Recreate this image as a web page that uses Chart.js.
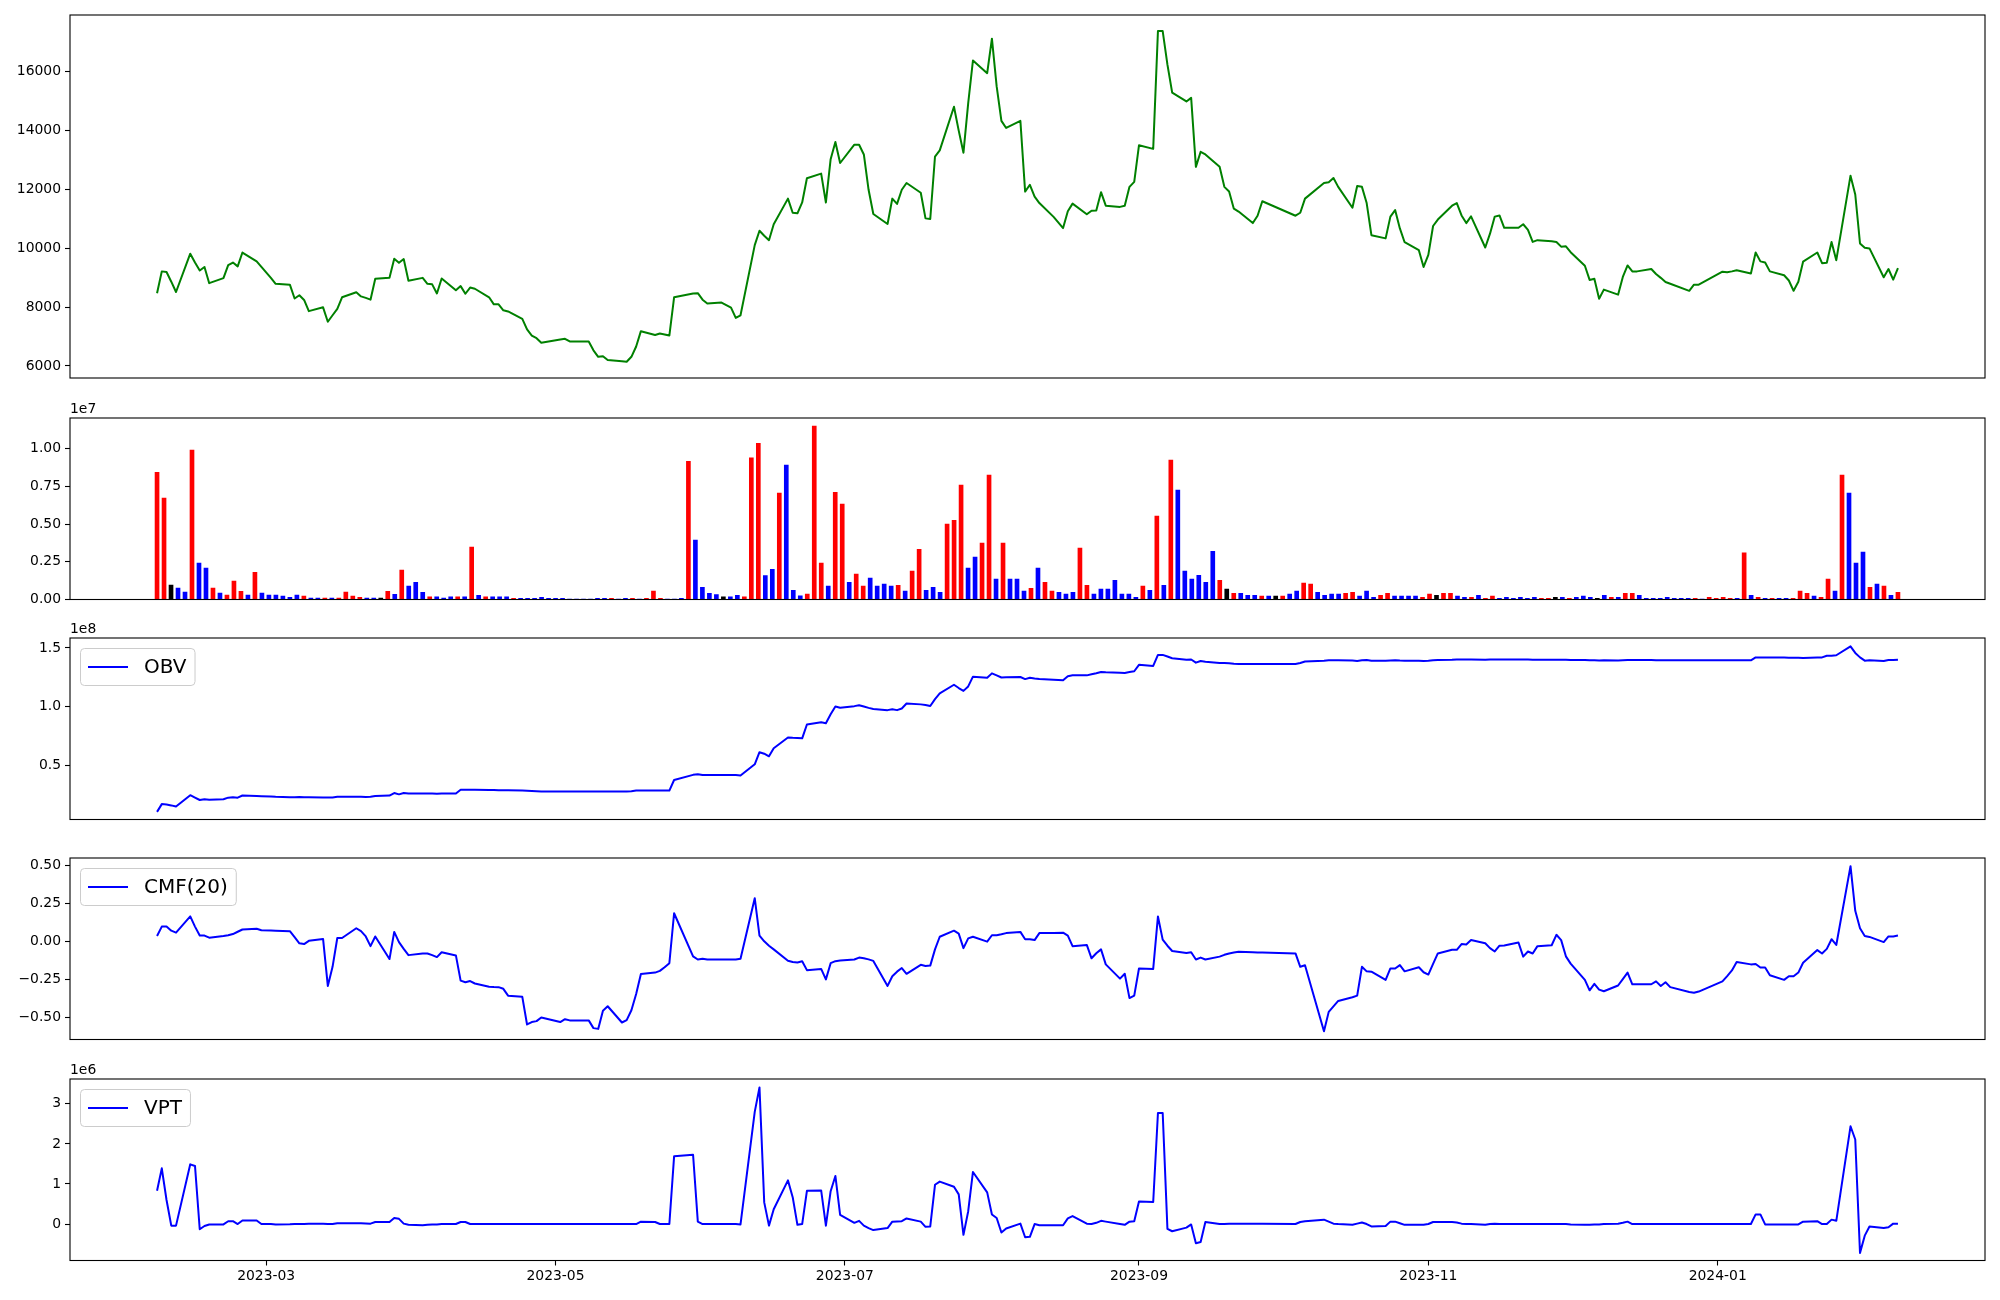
<!DOCTYPE html>
<html>
<head>
<meta charset="utf-8">
<script src="https://cdn.jsdelivr.net/npm/chart.js@4.4.1/dist/chart.umd.min.js"></script>
<style>
  body { margin: 0; background: #fff; }
  #wrap { position: relative; width: 2000px; height: 1300px; }
  #wrap canvas { position: absolute; left: 0; }
</style>
</head>
<body>
<div id="wrap">
  <canvas id="c-price"></canvas>
  <canvas id="c-vol"></canvas>
  <canvas id="c-obv"></canvas>
  <canvas id="c-cmf"></canvas>
  <canvas id="c-vpt"></canvas>
</div>
<script>
// trading calendar (KRX): weekdays between these dates, minus holidays
const startDate = '2023-02-06';
const endDate = '2024-02-08';
const holidays = ['2023-03-01', '2023-05-01', '2023-05-05', '2023-05-29', '2023-06-06',
  '2023-08-15', '2023-09-28', '2023-09-29', '2023-10-02', '2023-10-03', '2023-10-09',
  '2023-12-25', '2023-12-29', '2024-01-01'];
const monthTicks = ['2023-03-01', '2023-05-01', '2023-07-01', '2023-09-01', '2023-11-01', '2024-01-01'];

const closePrice = [
  8470, 9210, 9190, 8860, 8510, 9810, 9510, 9240, 9360, 8810,
  8980, 9420, 9510, 9380, 9850, 9550, 9360, 8990, 8790, 8760,
  8290, 8400, 8240, 7860, 7990, 7500, 7720, 7940, 8330, 8500,
  8360, 8310, 8250, 8960, 8990, 9640, 9500, 9630, 8890, 8990,
  8790, 8770, 8460, 8970, 8570, 8710, 8450, 8660, 8620, 8330,
  8090, 8090, 7890, 7850, 7600, 7240, 7030, 6940, 6790, 6900,
  6920, 6830, 6830, 6530, 6310, 6330, 6200, 6160, 6140, 6310,
  6660, 7180, 7050, 7100, 7070, 7030, 8330, 8460, 8470, 8250,
  8120, 8150, 7980, 7630, 7720, 10100, 10590, 10420, 10270, 10810,
  11680, 11200, 11180, 11550, 12370, 12530, 11550, 13020, 13600, 12890,
  13510, 13510, 13180, 11980, 11160, 10820, 11680, 11500, 11980, 12210,
  11880, 11010, 10990, 13110, 13320, 14800, 13990, 13240, 14920, 16370,
  15940, 17110, 15490, 14320, 14080, 14320, 11920, 12150, 11750, 11530,
  11060, 10680, 11250, 11510, 11150, 11270, 11280, 11900, 11440, 11400,
  11440, 12080, 12250, 13490, 13370, 17370, 17370, 16230, 15280, 14980,
  15100, 12760, 13270, 13180, 12760, 12080, 11920, 11340, 11240, 10850,
  11100, 11590, 11100, 11200, 11680, 12210, 12240, 12380, 12080, 11370,
  12110, 12080, 11530, 10440, 10330, 11070, 11290, 10670, 10200, 9930,
  9360, 9770, 10750, 10970, 11440, 11530, 11110, 10850, 11080, 10020,
  10490, 11070, 11110, 10690, 10690, 10810, 10620, 10210, 10270, 10230,
  10210, 10050, 10060, 9860, 9400, 8920, 8960, 8280, 8590, 8420,
  9020, 9410, 9210, 9210, 9290, 9120, 8990, 8850, 8790, 8550,
  8760, 8760, 9200, 9180, 9210, 9250, 9140, 9850, 9550, 9510,
  9210, 9080, 8900, 8550, 8860, 9540, 9850, 9490, 9500, 10210,
  9590, 12460, 11820, 10160, 10010, 9990, 9010, 9290, 8930, 9320
];

// volume in units of 1e7
const volume = [
  .845, .673, .095, .075, .049, .992, .241, .208, .075, .042,
  .029, .122, .055, .029, .181, .042, .029, .029, .022, .015,
  .029, .022, .009, .009, .009, .009, .009, .049, .022, .015,
  .009, .009, .009, .055, .035, .195, .089, .114, .048, .018,
  .018, .010, .018, .018, .018, .348, .028, .018, .018, .018,
  .018, .008, .008, .008, .008, .015, .008, .008, .008, .003,
  .003, .003, .003, .008, .008, .008, .003, .008, .008, .003,
  .008, .056, .008, .003, .003, .008, .917, .394, .081, .041,
  .033, .018, .018, .028, .018, .940, 1.037, .158, .201, .706,
  .892, .061, .025, .036, 1.151, .241, .089, .712, .633, .114,
  .168, .089, .142, .089, .102, .089, .094, .056, .188, .333,
  .061, .081, .048, .501, .526, .760, .208, .282, .374, .826,
  .135, .374, .135, .135, .056, .074, .208, .114, .056, .048,
  .036, .048, .341, .094, .036, .069, .069, .127, .036, .036,
  .015, .089, .061, .554, .094, .925, .727, .188, .135, .160,
  .114, .320, .127, .069, .041, .041, .028, .028, .023, .023,
  .023, .023, .036, .056, .109, .102, .048, .028, .036, .036,
  .041, .048, .023, .056, .015, .028, .041, .023, .023, .023,
  .023, .015, .036, .028, .041, .041, .023, .015, .015, .028,
  .008, .023, .008, .015, .008, .015, .008, .015, .008, .008,
  .015, .015, .008, .015, .023, .015, .008, .028, .015, .015,
  .041, .041, .028, .008, .008, .008, .015, .008, .008, .008,
  .008, .003, .015, .008, .015, .008, .008, .310, .028, .015,
  .008, .008, .008, .008, .008, .056, .041, .023, .015, .135,
  .056, .826, .706, .241, .315, .081, .102, .089, .028, .048
];

// bar direction: 1 up, -1 down, 0 unchanged
const volDir = [
  1, 1, 0, -1, -1, 1, -1, -1, 1, -1,
  1, 1, 1, -1, 1, -1, -1, -1, -1, -1,
  -1, 1, -1, -1, 1, -1, 1, 1, 1, 1,
  -1, -1, 0, 1, -1, 1, -1, -1, -1, 1,
  -1, -1, -1, 1, -1, 1, -1, 1, -1, -1,
  -1, 1, -1, -1, -1, -1, -1, -1, -1, -1,
  -1, -1, -1, -1, -1, 1, -1, -1, 1, -1,
  1, 1, 1, -1, -1, -1, 1, -1, -1, -1,
  -1, 0, -1, -1, 1, 1, 1, -1, -1, 1,
  -1, -1, -1, 1, 1, 1, -1, 1, 1, -1,
  1, 1, -1, -1, -1, -1, 1, -1, 1, 1,
  -1, -1, -1, 1, 1, 1, -1, -1, 1, 1,
  -1, 1, -1, -1, -1, 1, -1, 1, 1, -1,
  -1, -1, 1, 1, -1, -1, -1, -1, -1, -1,
  -1, 1, -1, 1, -1, 1, -1, -1, -1, -1,
  -1, -1, 1, 0, 1, -1, -1, -1, 1, -1,
  0, 1, -1, -1, 1, 1, -1, -1, -1, -1,
  1, 1, -1, -1, -1, 1, 1, -1, -1, -1,
  -1, 1, 1, 0, 1, 1, -1, -1, 1, -1,
  1, 1, -1, -1, -1, -1, -1, -1, 1, 1,
  0, -1, 1, -1, -1, -1, 0, -1, 1, -1,
  1, 1, -1, -1, -1, -1, -1, -1, -1, -1,
  1, -1, 1, 1, 1, 1, -1, 1, -1, 1,
  -1, 1, -1, -1, 1, 1, 1, -1, 1, 1,
  -1, 1, -1, -1, -1, 1, -1, 1, -1, 1
];

// OBV in units of 1e8
const obv = [
  .105, .171, .168, .160, .150, .247, .226, .206, .212, .209,
  .212, .226, .229, .226, .244, .240, .238, .235, .233, .230,
  .230, .231, .230, .230, .228, .228, .228, .233, .233, .233,
  .233, .232, .233, .240, .244, .265, .254, .265, .261, .261,
  .261, .261, .259, .261, .261, .293, .293, .293, .293, .292,
  .291, .290, .289, .288, .286, .285, .283, .281, .279, .279,
  .279, .279, .279, .279, .279, .279, .279, .279, .279, .280,
  .286, .286, .286, .286, .286, .286, .376, .420, .425, .418,
  .418, .418, .418, .418, .414, .510, .613, .600, .578, .647,
  .738, .735, .733, .731, .849, .867, .860, .936, 1.002, .992,
  1.005, 1.013, 1.002, .990, .981, .971, .978, .971, .985, 1.027,
  1.020, 1.015, 1.006, 1.065, 1.114, 1.187, 1.159, 1.135, 1.173, 1.256,
  1.246, 1.284, 1.267, 1.249, 1.250, 1.253, 1.235, 1.246, 1.240, 1.235,
  1.230, 1.225, 1.260, 1.267, 1.267, 1.276, 1.285, 1.295, 1.293, 1.290,
  1.288, 1.295, 1.302, 1.357, 1.347, 1.441, 1.441, 1.427, 1.413, 1.399,
  1.402, 1.375, 1.389, 1.382, 1.373, 1.372, 1.370, 1.365, 1.364, 1.364,
  1.364, 1.364, 1.364, 1.372, 1.385, 1.392, 1.395, 1.396, 1.396, 1.393,
  1.390, 1.395, 1.397, 1.392, 1.392, 1.394, 1.395, 1.393, 1.392, 1.392,
  1.390, 1.392, 1.395, 1.397, 1.399, 1.401, 1.402, 1.401, 1.402, 1.400,
  1.401, 1.402, 1.402, 1.401, 1.401, 1.402, 1.401, 1.400, 1.400, 1.400,
  1.399, 1.399, 1.399, 1.398, 1.397, 1.396, 1.395, 1.394, 1.395, 1.394,
  1.396, 1.398, 1.397, 1.397, 1.397, 1.396, 1.396, 1.396, 1.395, 1.395,
  1.395, 1.395, 1.395, 1.395, 1.395, 1.395, 1.395, 1.420, 1.419, 1.419,
  1.418, 1.418, 1.417, 1.416, 1.416, 1.415, 1.420, 1.420, 1.434, 1.434,
  1.438, 1.514, 1.458, 1.420, 1.392, 1.395, 1.389, 1.398, 1.397, 1.399
];

const cmf20 = [
  .034, .096, .096, .069, .056, .163, .096, .037, .037, .023,
  .034, .039, .047, .062, .077, .082, .072, .070, .069, .066,
  .026, -.014, -.019, .002, .015, -.295, -.169, .021, .021, .085,
  .066, .031, -.033, .031, -.118, .061, -.006, -.051, -.092, -.081,
  -.081, -.092, -.105, -.073, -.094, -.260, -.271, -.263, -.279, -.300,
  -.302, -.303, -.314, -.359, -.367, -.549, -.533, -.527, -.503, -.533,
  -.514, -.522, -.522, -.573, -.578, -.458, -.429, -.536, -.520, -.455,
  -.348, -.217, -.207, -.196, -.172, -.145, .184, -.100, -.121, -.116,
  -.121, -.121, -.121, -.121, -.116, .283, .037, -.001, -.030, -.054,
  -.129, -.137, -.140, -.132, -.191, -.183, -.252, -.145, -.132, -.128,
  -.121, -.108, -.113, -.120, -.130, -.295, -.231, -.201, -.177, -.215,
  -.156, -.164, -.161, -.054, .029, .069, .050, -.046, .018, .029,
  -.003, .039, .039, .045, .053, .061, .013, .013, .007, .053,
  .053, .056, .037, -.033, -.025, -.113, -.080, -.054, -.153, -.247,
  -.215, -.375, -.359, -.180, -.183, .163, .010, -.030, -.065, -.078,
  -.073, -.121, -.108, -.121, -.102, -.090, -.081, -.075, -.070, -.073,
  -.075, -.075, -.081, -.169, -.159, -.594, -.466, -.430, -.394, -.370,
  -.359, -.169, -.199, -.201, -.255, -.180, -.180, -.158, -.199, -.172,
  -.205, -.220, -.150, -.081, -.057, -.057, -.019, -.022, .007, -.014,
  -.046, -.068, -.030, -.028, -.009, -.102, -.068, -.081, -.033, -.027,
  .042, .007, -.100, -.148, -.255, -.324, -.281, -.319, -.330, -.292,
  -.250, -.207, -.284, -.284, -.284, -.265, -.295, -.271, -.303, -.335,
  -.340, -.332, -.265, -.230, -.193, -.137, -.153, -.150, -.174, -.174,
  -.225, -.255, -.231, -.231, -.207, -.142, -.059, -.081, -.051, .013,
  -.025, .494, .200, .085, .034, .028, -.006, .031, .031, .037
];

// VPT in units of 1e6
const vpt = [
  .83, 1.39, .60, -.04, -.04, 1.49, 1.45, -.13, -.05, -.01,
  -.01, .07, .07, .00, .09, .09, .00, .00, -.01, -.005,
  .00, .00, .00, .005, .005, .00, .00, .02, .02, .02,
  .02, .015, .01, .05, .05, .15, .13, .01, -.02, -.03,
  -.02, -.01, -.01, .00, .00, .05, .05, .00, .00, .00,
  .00, .00, .00, .00, .00, .00, .00, .00, .00, .00,
  .00, .00, .00, .00, .00, .00, .00, .00, .00, .00,
  .00, .06, .05, .00, .00, .00, 1.69, 1.73, .06, .00,
  .00, .00, .00, .00, -.01, 2.80, 3.41, .54, -.04, .37,
  1.09, .67, -.02, .00, .83, .84, -.04, .82, 1.20, .23,
  .03, .08, -.04, -.10, -.15, -.10, .06, .065, .07, .14,
  .06, -.07, -.06, .98, 1.06, .93, .74, -.27, .32, 1.30,
  .79, .24, .15, -.21, -.11, .01, -.33, -.32, .00, -.03,
  -.03, -.03, .14, .20, .01, .00, .03, .08, .06, .00,
  -.02, .06, .07, .56, .55, 2.77, 2.77, -.12, -.18, -.09,
  -.01, -.48, -.45, .05, .00, .00, .01, .01, .01, .01,
  .01, .01, .00, .05, .07, .11, .06, .01, .00, -.02,
  .01, .04, .00, -.06, -.05, .06, .06, .02, -.02, -.02,
  -.02, .00, .05, .05, .05, .04, .01, .00, .00, -.02,
  .00, .01, .00, .00, .00, .00, .00, .00, .00, .00,
  .00, .00, .00, -.01, -.02, -.02, -.01, -.01, .00, .01,
  .03, .06, .00, .00, .00, .00, .00, .00, .00, .00,
  .00, .00, .00, .00, .00, .00, .00, .24, .24, -.01,
  -.01, -.01, -.01, -.01, -.01, .06, .07, .00, .00, .11,
  .08, 2.44, 2.11, -.72, -.29, -.06, -.10, -.08, .01, .01
];

const DAY = 86400000;
function dayNum(s) {
  return Date.UTC(+s.slice(0, 4), +s.slice(5, 7) - 1, +s.slice(8, 10)) / DAY;
}

const dates = [];
for (let d = dayNum(startDate); d <= dayNum(endDate); d++) {
  const dt = new Date(d * DAY);
  const wd = dt.getUTCDay();
  if (wd !== 0 && wd !== 6 && !holidays.includes(dt.toISOString().slice(0, 10))) dates.push(d);
}

const first = dates[0], last = dates[dates.length - 1], span = last - first;
const xMin = first - 0.05 * span, xMax = last + 0.05 * span;
// volume bars sit on an evenly spaced grid over the same span
const barX = dates.map((_, i) => first + i * span / (dates.length - 1));

const FONT = { family: 'DejaVu Sans', size: 13.9 };
const minus = s => s.replace('-', '\u2212');

Chart.register({
  id: 'decor',
  afterDraw(chart, args, opts) {
    const { ctx, chartArea: a } = chart;
    ctx.save();
    ctx.strokeStyle = '#000';
    ctx.lineWidth = 1.1;
    ctx.strokeRect(a.left, a.top, a.right - a.left, a.bottom - a.top);
    if (opts.offset) {
      ctx.fillStyle = '#000';
      ctx.font = '13.9px "DejaVu Sans"';
      ctx.textBaseline = 'alphabetic';
      ctx.fillText(opts.offset, a.left, a.top - 5);
    }
    if (opts.legend) {
      ctx.font = '20px "DejaVu Sans"';
      const tw = ctx.measureText(opts.legend).width;
      const x = a.left + 10, y = a.top + 10, w = 8 + 40 + 16 + tw + 8, h = 37;
      ctx.beginPath();
      ctx.roundRect(x + 0.5, y + 0.5, w, h, 4);
      ctx.fillStyle = 'rgba(255,255,255,0.8)';
      ctx.fill();
      ctx.strokeStyle = '#cccccc';
      ctx.lineWidth = 1;
      ctx.stroke();
      ctx.beginPath();
      ctx.moveTo(x + 8, y + h / 2 + 0.5);
      ctx.lineTo(x + 48, y + h / 2 + 0.5);
      ctx.strokeStyle = '#0000ff';
      ctx.lineWidth = 2;
      ctx.stroke();
      ctx.fillStyle = '#000';
      ctx.textBaseline = 'middle';
      ctx.fillText(opts.legend, x + 64, y + h / 2 + 1);
    }
    ctx.restore();
  }
});

function xScale(show) {
  return {
    type: 'linear', min: xMin, max: xMax, display: show, offset: false,
    afterBuildTicks: s => { s.ticks = monthTicks.map(t => ({ value: dayNum(t) })); },
    ticks: {
      color: '#000', font: FONT, padding: 3, maxRotation: 0, autoSkip: false,
      callback: v => {
        const dt = new Date(v * DAY);
        return dt.getUTCFullYear() + '-' + String(dt.getUTCMonth() + 1).padStart(2, '0');
      }
    },
    grid: { drawOnChartArea: false, tickLength: 5, tickColor: '#000', tickWidth: 1.1 },
    border: { display: false },
    afterFit: s => { s.height = show ? 39.5 : 0; }
  };
}

function yScale(min, max, ticks, fmt) {
  return {
    min, max,
    afterBuildTicks: s => { s.ticks = ticks.map(v => ({ value: v })); },
    ticks: { color: '#000', font: FONT, padding: 4, callback: fmt },
    grid: { drawOnChartArea: false, tickLength: 5, tickColor: '#000', tickWidth: 1.1 },
    border: { display: false },
    afterFit: s => { s.width = 70; }
  };
}

function makeChart(id, top, height, pad, type, datasets, y, decor, showX) {
  const cv = document.getElementById(id);
  cv.width = 2000;
  cv.height = height;
  cv.style.top = top + 'px';
  return new Chart(cv, {
    type,
    data: { datasets },
    options: {
      responsive: false, animation: false, devicePixelRatio: 1,
      layout: { padding: { left: 0, right: 15, top: pad[0], bottom: pad[1] } },
      plugins: { legend: { display: false }, tooltip: { enabled: false }, decor },
      scales: { x: xScale(showX), y }
    }
  });
}

const lineSet = (vals, color) => ({
  data: vals.map((v, i) => ({ x: dates[i], y: v })),
  borderColor: color, borderWidth: 2, pointRadius: 0, tension: 0,
  borderJoinStyle: 'round', fill: false
});

// price
makeChart('c-price', 0, 400, [15, 22], 'line', [lineSet(closePrice, '#008000')],
  yScale(5590, 17915, [6000, 8000, 10000, 12000, 14000, 16000], v => String(v)), {}, false);

// volume
makeChart('c-vol', 400, 220, [18, 20.5], 'bar', [{
  data: volume.map((v, i) => ({ x: barX[i], y: v })),
  backgroundColor: volDir.map(d => d > 0 ? '#ff0000' : d < 0 ? '#0000ff' : '#000000'),
  borderWidth: 0, barThickness: 4
}], yScale(0, 1.205, [0, 0.25, 0.5, 0.75, 1.0], v => v.toFixed(2)), { offset: '1e7' }, false);

// OBV
makeChart('c-obv', 620, 220, [18, 20.5], 'line', [lineSet(obv, '#0000ff')],
  yScale(0.04, 1.585, [0.5, 1.0, 1.5], v => v.toFixed(1)), { offset: '1e8', legend: 'OBV' }, false);

// CMF
makeChart('c-cmf', 840, 220, [18, 20.5], 'line', [lineSet(cmf20, '#0000ff')],
  yScale(-0.648, 0.548, [-0.5, -0.25, 0, 0.25, 0.5], v => minus(v.toFixed(2))), { legend: 'CMF(20)' }, false);

// VPT
makeChart('c-vpt', 1060, 240, [19, 0], 'line', [lineSet(vpt, '#0000ff')],
  yScale(-0.91, 3.62, [0, 1, 2, 3], v => String(v)), { offset: '1e6', legend: 'VPT' }, true);
</script>
</body>
</html>
